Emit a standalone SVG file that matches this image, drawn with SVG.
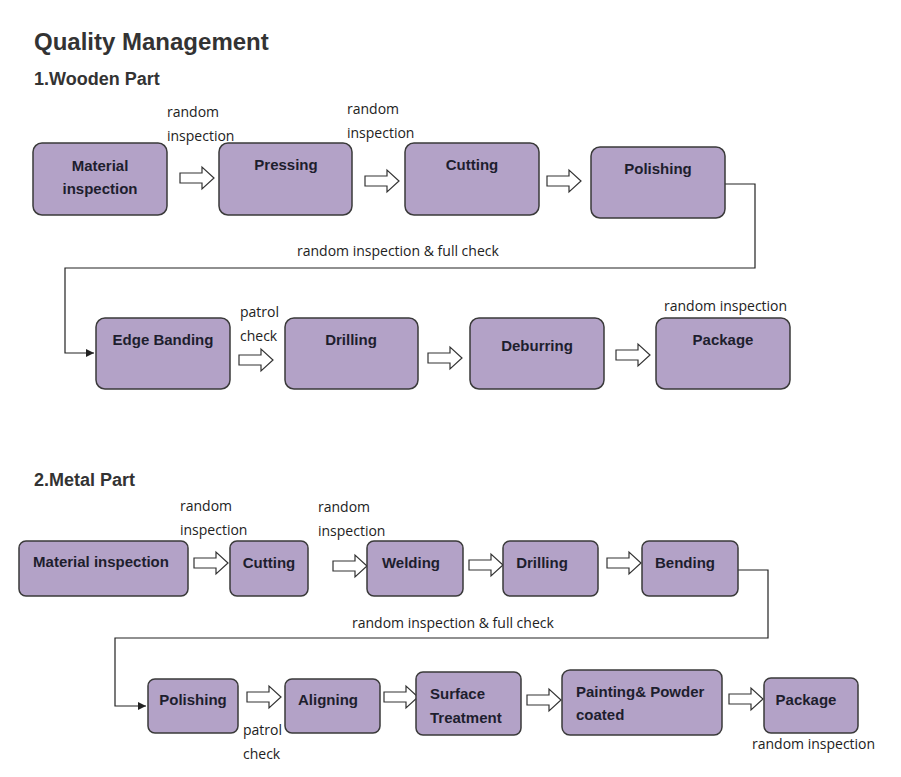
<svg xmlns="http://www.w3.org/2000/svg" xmlns:xlink="http://www.w3.org/1999/xlink" width="901" height="777" viewBox="0 0 901 777">
<style>
.box{fill:#b3a2c7;stroke:#3a3a3a;stroke-width:1.5}
.t{font-family:"Liberation Sans",Arial,sans-serif;font-weight:bold;font-size:15px;fill:#1e1e2e;text-anchor:middle}
.tl{font-family:"Liberation Sans",Arial,sans-serif;font-weight:bold;font-size:15px;fill:#1e1e2e}
.l{font-family:"Open Sans","Liberation Sans",sans-serif;font-size:14px;fill:#222}
.h{font-family:"Liberation Sans",Arial,sans-serif;font-weight:bold;fill:#333}
.ln{fill:none;stroke:#222;stroke-width:1.2}
</style>
<defs>
<path id="ba" d="M0,-5 H22 V-11 L34,0 L22,11 V5 H0 Z" fill="#fff" stroke="#333" stroke-width="1.2"/>
<marker id="ah" viewBox="0 0 10 10" refX="10" refY="5" markerWidth="7" markerHeight="7" orient="auto"><path d="M0,0 L10,5 L0,10 Z" fill="#222"/></marker>
</defs>
<rect width="901" height="777" fill="#fff"/>
<text x="34" y="50" class="h" font-size="24">Quality Management</text>
<text x="34" y="85" class="h" font-size="18">1.Wooden Part</text>
<text x="34" y="486" class="h" font-size="18">2.Metal Part</text>

<g id="connectors">
<use xlink:href="#ba" x="180" y="178"/>
<use xlink:href="#ba" x="365" y="181"/>
<use xlink:href="#ba" x="547" y="181"/>
<use xlink:href="#ba" x="239" y="360"/>
<use xlink:href="#ba" x="428" y="358"/>
<use xlink:href="#ba" x="616" y="355"/>
<path class="ln" d="M725,184 H755 V268 H65 V353 H94" marker-end="url(#ah)"/>
<use xlink:href="#ba" x="194" y="563"/>
<use xlink:href="#ba" x="333" y="566"/>
<use xlink:href="#ba" x="469" y="565"/>
<use xlink:href="#ba" x="607" y="563"/>
<path class="ln" d="M738,570 H768 V638 H115 V706 H146" marker-end="url(#ah)"/>
<use xlink:href="#ba" x="247" y="697"/>
<use xlink:href="#ba" x="384" y="697"/>
<use xlink:href="#ba" x="527" y="700"/>
<use xlink:href="#ba" x="729" y="699"/>
</g>

<g id="labels">
<text class="l" x="167" y="117">random</text><text class="l" x="167" y="141">inspection</text>
<text class="l" x="347" y="114">random</text><text class="l" x="347" y="138">inspection</text>
<text class="l" x="297" y="256">random inspection &amp; full check</text>
<text class="l" x="240" y="317">patrol</text><text class="l" x="240" y="341">check</text>
<text class="l" x="664" y="311">random inspection</text>
<text class="l" x="180" y="511">random</text><text class="l" x="180" y="535">inspection</text>
<text class="l" x="318" y="512">random</text><text class="l" x="318" y="536">inspection</text>
<text class="l" x="352" y="628">random inspection &amp; full check</text>
<text class="l" x="243" y="735">patrol</text><text class="l" x="243" y="759">check</text>
<text class="l" x="752" y="749">random inspection</text>
</g>

<g id="w1"><rect class="box" x="33" y="143" width="134" height="72" rx="9"/><text class="t" x="100" y="171">Material</text><text class="t" x="100" y="194">inspection</text></g>
<g id="w2"><rect class="box" x="219" y="143" width="133" height="72" rx="9"/><text class="t" x="286" y="170">Pressing</text></g>
<g id="w3"><rect class="box" x="405" y="143" width="134" height="72" rx="9"/><text class="t" x="472" y="170">Cutting</text></g>
<g id="w4"><rect class="box" x="591" y="147" width="134" height="71" rx="9"/><text class="t" x="658" y="174">Polishing</text></g>
<g id="w5"><rect class="box" x="96" y="318" width="134" height="71" rx="9"/><text class="t" x="163" y="345">Edge Banding</text></g>
<g id="w6"><rect class="box" x="285" y="318" width="133" height="71" rx="9"/><text class="t" x="351" y="345">Drilling</text></g>
<g id="w7"><rect class="box" x="470" y="318" width="134" height="71" rx="9"/><text class="t" x="537" y="351">Deburring</text></g>
<g id="w8"><rect class="box" x="656" y="318" width="134" height="71" rx="9"/><text class="t" x="723" y="345">Package</text></g>

<g id="m1"><rect class="box" x="19" y="541" width="169" height="55" rx="7"/><text class="t" x="101" y="567">Material inspection</text></g>
<g id="m2"><rect class="box" x="230" y="541" width="78" height="55" rx="7"/><text class="t" x="269" y="568">Cutting</text></g>
<g id="m3"><rect class="box" x="367" y="541" width="96" height="55" rx="7"/><text class="t" x="411" y="568">Welding</text></g>
<g id="m4"><rect class="box" x="503" y="541" width="95" height="55" rx="7"/><text class="t" x="542" y="568">Drilling</text></g>
<g id="m5"><rect class="box" x="642" y="541" width="96" height="55" rx="7"/><text class="t" x="685" y="568">Bending</text></g>
<g id="m6"><rect class="box" x="148" y="679" width="90" height="54" rx="7"/><text class="t" x="193" y="705">Polishing</text></g>
<g id="m7"><rect class="box" x="285" y="679" width="95" height="54" rx="7"/><text class="t" x="328" y="705">Aligning</text></g>
<g id="m8"><rect class="box" x="416" y="672" width="105" height="63" rx="7"/><text class="tl" x="430" y="699">Surface</text><text class="tl" x="430" y="723">Treatment</text></g>
<g id="m9"><rect class="box" x="562" y="670" width="160" height="65" rx="8"/><text class="tl" x="576" y="697">Painting&amp;  Powder</text><text class="tl" x="576" y="720">coated</text></g>
<g id="m10"><rect class="box" x="764" y="678" width="94" height="55" rx="7"/><text class="t" x="806" y="705">Package</text></g>
</svg>
